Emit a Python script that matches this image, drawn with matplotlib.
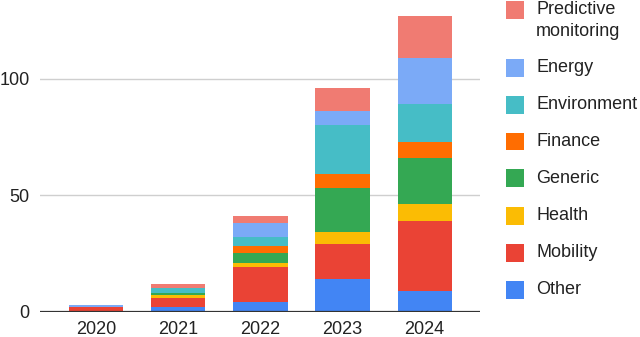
import numpy as np
import matplotlib
matplotlib.use("Agg")
import matplotlib.pyplot as plt
from matplotlib.patches import Rectangle

plt.rcParams["font.family"] = ["Liberation Sans", "DejaVu Sans"]

years = ["2020", "2021", "2022", "2023", "2024"]

# stacked bottom -> top
other = [0, 2, 4, 14, 9]
mobility = [2, 4, 15, 15, 30]
health = [0, 1, 2, 5, 7]
generic = [0, 1, 4, 19, 20]
finance = [0, 0, 3, 6, 7]
environment = [0, 2, 4, 21, 16]
energy = [1, 0, 6, 6, 20]
predictive = [0, 2, 3, 10, 18]

series = [
    ("Other", other, "#4285F4"),
    ("Mobility", mobility, "#EA4335"),
    ("Health", health, "#FBBC04"),
    ("Generic", generic, "#34A853"),
    ("Finance", finance, "#FF6D01"),
    ("Environment", environment, "#46BDC6"),
    ("Energy", energy, "#7BAAF7"),
    ("Predictive\nmonitoring", predictive, "#F07B72"),
]

W, H = 640, 337
fig = plt.figure(figsize=(W / 100, H / 100), dpi=100)
ax = fig.add_axes([40 / W, (H - 311.7) / H, 440 / W, 310 / H])

x = np.arange(len(years))
bottom = np.zeros(len(years))
for name, vals, color in series:
    ax.bar(x, vals, width=0.66, bottom=bottom, color=color, linewidth=0, zorder=2)
    bottom += np.array(vals)

ax.set_xlim(-0.685, 4.675)
ax.set_ylim(0, 133)
ax.set_yticks([0, 50, 100])
ax.set_xticks(x)
ax.set_xticklabels(years)
for s in ax.spines.values():
    s.set_visible(False)
ax.grid(axis="y", color="#cfcfcf", linewidth=1, zorder=0)
ax.axhline(0, color="#333333", linewidth=1.6, zorder=3)
ax.tick_params(length=0, labelsize=13, colors="#222222", pad=7)
ax.tick_params(axis="y", pad=7.5)

# legend, top to bottom
rows = [9.5, 67.5, 104.5, 141.5, 178.5, 215.5, 252.5, 289.5]
for (name, vals, color), yc in zip(series[::-1], rows):
    fig.add_artist(Rectangle((506 / W, 1 - (yc + 9) / H), 18 / W, 18 / H,
                             transform=fig.transFigure, color=color, linewidth=0))
    for k, line in enumerate(name.split("\n")):
        fig.text(536 / W, 1 - (yc + k * 22) / H, line, va="center", ha="left",
                 fontsize=13, color="#222222")

fig.savefig("out.png", dpi=100)
